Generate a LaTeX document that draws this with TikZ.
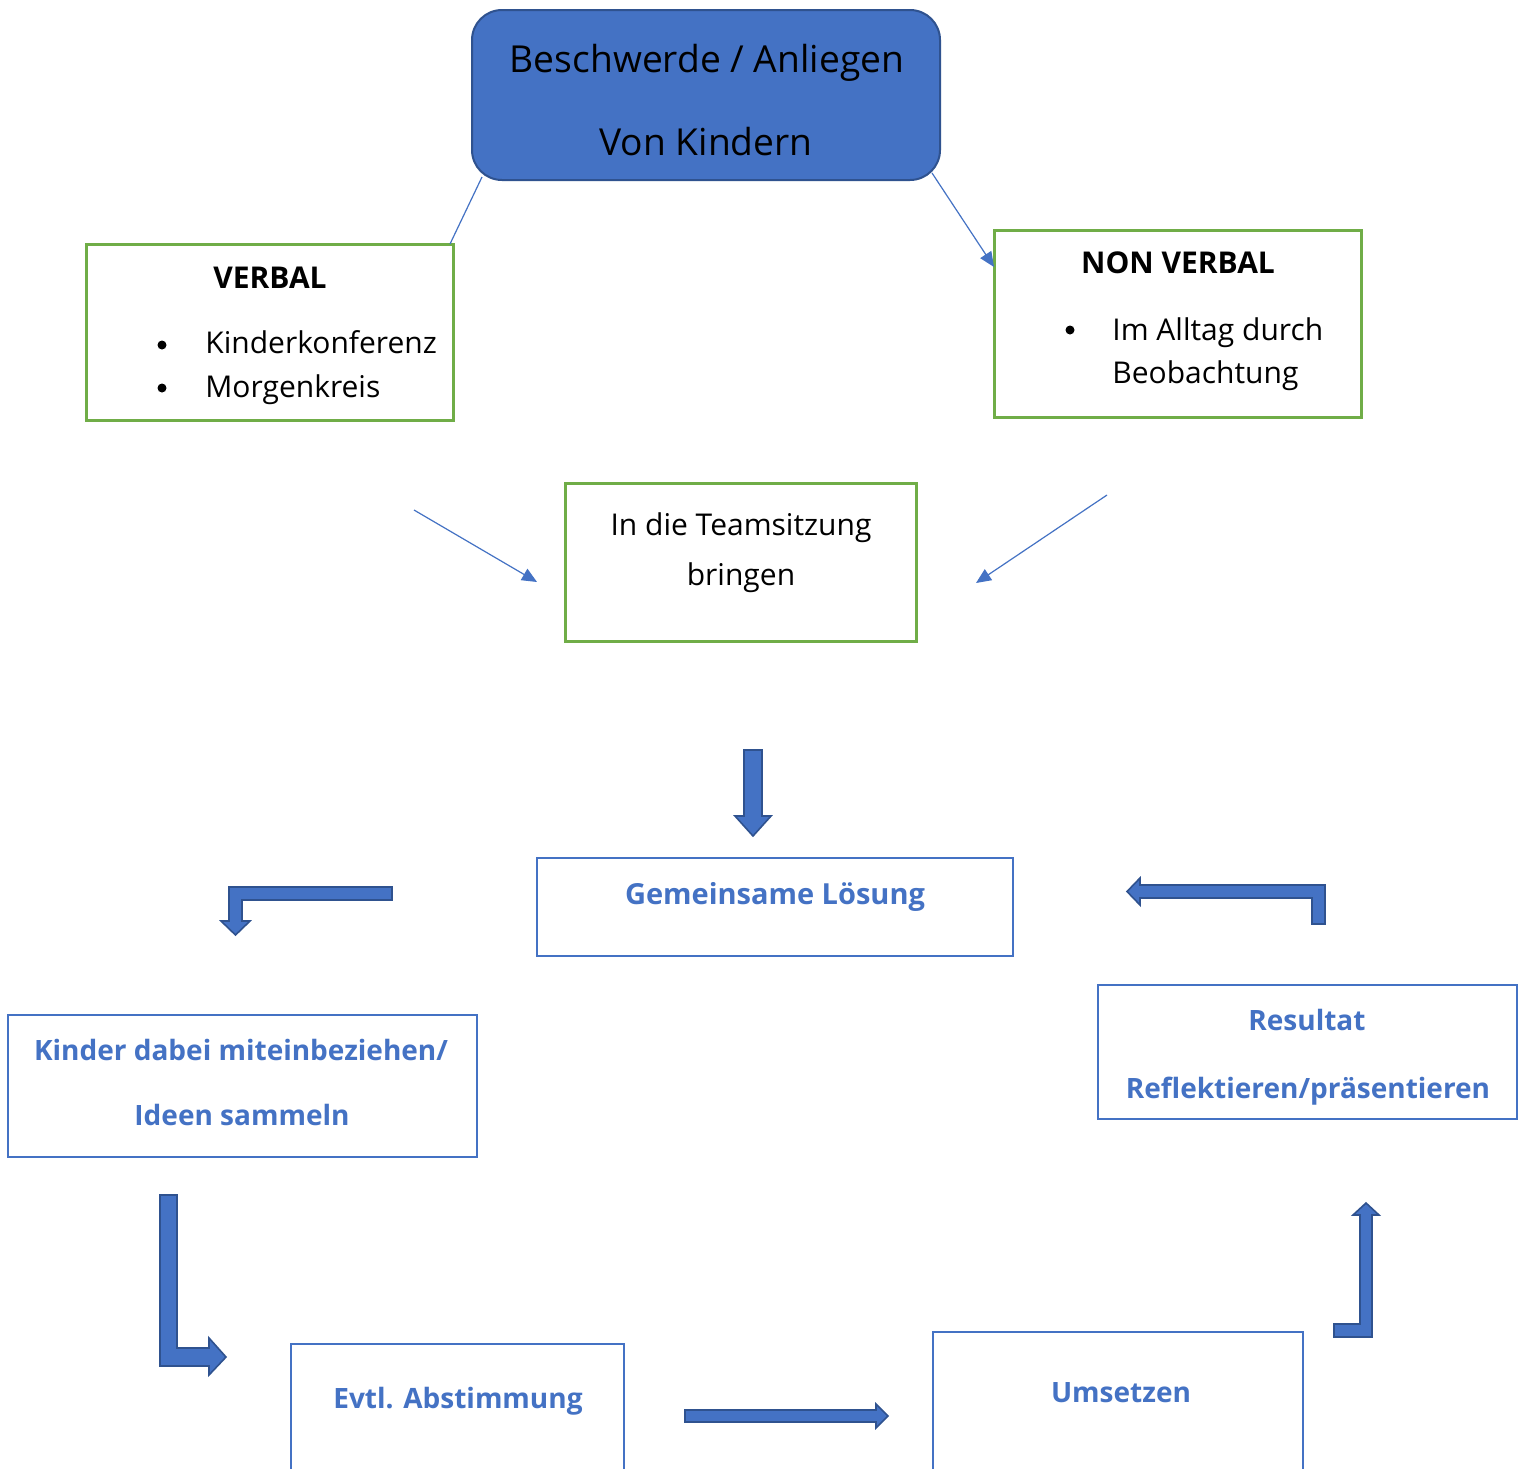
\documentclass[tikz,border=0pt]{standalone}
\usepackage{fontspec}
\setmainfont{Open Sans}
\usetikzlibrary{arrows.meta,fit}
\definecolor{accblue}{HTML}{4472C4}
\definecolor{darkblue}{HTML}{2F528F}
\definecolor{accgreen}{HTML}{70AD47}
\begin{document}
\begin{tikzpicture}[x=0.5pt,y=-0.5pt,
  greenbox/.style={draw=accgreen, line width=1.5pt, inner sep=0pt, rectangle},
  bluebox/.style={draw=accblue, line width=1.2pt, inner sep=0pt, rectangle},
  topbox/.style={draw=darkblue, fill=accblue, line width=1pt, rounded corners=15pt, inner sep=0pt},
  blacktxt/.style={anchor=base, inner sep=0pt, text=black},
  bluetxt/.style={anchor=base, inner sep=0pt, text=accblue, font=\fontsize{14}{16}\selectfont\bfseries},
  bodyfont/.style={font=\fontsize{15}{17}\selectfont},
  headfont/.style={font=\fontsize{15}{17}\selectfont\bfseries},
  bul/.style={circle, fill=black, inner sep=0pt, minimum size=4.5pt},
  thinarrow/.style={draw=accblue, line width=0.6pt, -{Triangle[length=7.5pt,width=6.5pt]}},
  thinline/.style={draw=accblue, line width=0.6pt},
  blockarrow/.style={fill=accblue, draw=darkblue, line width=0.8pt, line join=miter}]
\useasboundingbox (0,0) rectangle (1524,1468);
\clip (0,0) rectangle (1524,1468);
\fill[white] (0,0) rectangle (1524,1468);

% boxes
\node[topbox, fit={(472,10) (940,180)}] (top) {};
\node[greenbox, fit={(86,244) (453,420)}] (verbal) {};
\node[greenbox, fit={(994,230) (1361,417)}] (nonverbal) {};
\node[greenbox, fit={(565,483) (916,641)}] (team) {};
\node[bluebox, fit={(537,858) (1013,956)}] (loesung) {};
\node[bluebox, fit={(8,1015) (477,1157)}] (kinder) {};
\node[bluebox, fit={(1098,985) (1517,1119)}] (resultat) {};
\node[bluebox, fit={(291,1344) (624,1520)}] (evtl) {};
\node[bluebox, fit={(933,1332) (1303,1520)}] (umsetzen) {};

% texts
\node[blacktxt, font=\fontsize{18.6}{21}\selectfont] (t1) at (707,72) {Beschwerde / Anliegen};
\node[blacktxt, font=\fontsize{18.6}{21}\selectfont] (t2) at (706,155) {Von Kindern};

\node[blacktxt, headfont] (vh) at (270,288) {VERBAL};
\node[bul] (vb1) at (162,345) {};
\node[bul] (vb2) at (162,388) {};
\node[blacktxt, anchor=base west, bodyfont] (v1) at (205,353) {Kinderkonferenz};
\node[blacktxt, anchor=base west, bodyfont] (v2) at (205,397) {Morgenkreis};

\node[blacktxt, headfont] (nh) at (1178,273) {NON VERBAL};
\node[bul] (nb1) at (1070,330) {};
\node[blacktxt, anchor=base west, bodyfont] (n1) at (1112,340) {Im Alltag durch};
\node[blacktxt, anchor=base west, bodyfont] (n2) at (1112,383) {Beobachtung};

\node[blacktxt, bodyfont] (tm1) at (741,535) {In die Teamsitzung};
\node[blacktxt, bodyfont] (tm2) at (741,585) {bringen};

\node[bluetxt, font=\fontsize{14.5}{16}\selectfont\bfseries] (lt) at (775,904) {Gemeinsame Lösung};
\node[bluetxt] (k1) at (241,1060) {Kinder dabei miteinbeziehen/};
\node[bluetxt] (k2) at (242,1125) {Ideen sammeln};
\node[bluetxt] (r1) at (1307,1030) {Resultat};
\node[bluetxt] (r2) at (1308,1098) {Reflektieren/präsentieren};
\node[bluetxt] (e1) at (458,1408) {Evtl. Abstimmung};
\node[bluetxt] (u1) at (1121,1402) {Umsetzen};

% thin connectors
\coordinate (c1a) at (482,177);
\coordinate (c1b) at (450,244);
\coordinate (c2a) at (932,173);
\coordinate (c2b) at (994,267);
\coordinate (c3a) at (414,510);
\coordinate (c3b) at (537,582);
\coordinate (c4a) at (1107,495);
\coordinate (c4b) at (976,583);
\draw[thinline] (c1a) -- (c1b);
\draw[thinarrow] (c2a) -- (c2b);
\draw[thinarrow] (c3a) -- (c3b);
\draw[thinarrow] (c4a) -- (c4b);

% block arrows
\draw[blockarrow] (744,750) -- (762,750) -- (762,816) -- (771,816) -- (753,836) -- (735,816) -- (744,816) -- cycle;
\draw[blockarrow] (392,887) -- (392,900) -- (242,900) -- (242,921) -- (250,921) -- (235.5,935) -- (221,921) -- (229,921) -- (229,887) -- cycle;
\draw[blockarrow] (1325,924) -- (1312,924) -- (1312,898) -- (1140,898) -- (1140,905) -- (1127,891.5) -- (1140,878) -- (1140,885) -- (1325,885) -- cycle;
\draw[blockarrow] (160,1195) -- (177,1195) -- (177,1348) -- (209,1348) -- (209,1338) -- (226,1357) -- (209,1375) -- (209,1366) -- (160,1366) -- cycle;
\draw[blockarrow] (685,1410) -- (876,1410) -- (876,1404) -- (888,1416) -- (876,1428) -- (876,1422) -- (685,1422) -- cycle;
\draw[blockarrow] (1334,1324) -- (1360,1324) -- (1360,1215) -- (1353,1215) -- (1366,1203) -- (1379,1215) -- (1372,1215) -- (1372,1337) -- (1334,1337) -- cycle;
\end{tikzpicture}
\end{document}
